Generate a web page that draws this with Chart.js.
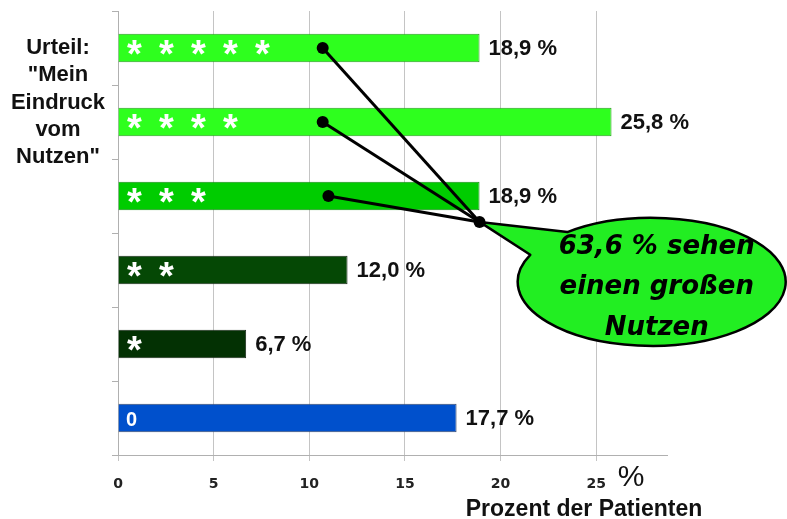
<!DOCTYPE html>
<html>
<head>
<meta charset="utf-8">
<script src="https://cdn.jsdelivr.net/npm/chart.js@4.4.0/dist/chart.umd.min.js"></script>
<style>
  html, body { margin: 0; padding: 0; background: #fff; }
  #wrap { width: 787px; height: 519px; }
</style>
</head>
<body>
<div id="wrap"><canvas id="chart" width="787" height="519"></canvas></div>
<script>
// Daten aus der Vorlage
const categories = ['* * * * *', '* * * *', '* * *', '* *', '*', '0'];
const percentages = [18.9, 25.8, 18.9, 12.0, 6.7, 17.7];
const valueLabels = ['18,9 %', '25,8 %', '18,9 %', '12,0 %', '6,7 %', '17,7 %'];
const barColors = ['#2eff1e', '#2eff1e', '#00cc00', '#054805', '#033103', '#0050cc'];
const barBorders = ['#2a9a20', '#2a9a20', '#108a10', '#1a2a1a', '#1a2a1a', '#3a4a6a'];
const xTicks = [0, 5, 10, 15, 20, 25];
const axisTitleLines = ['Urteil:', '"Mein', 'Eindruck', 'vom', 'Nutzen"'];
const calloutLines = ['63,6 % sehen', 'einen großen', 'Nutzen'];
const pointerFrom = [10.7, 10.7, 11.0];   // x-Werte der Punkte auf den Balken 0..2
const pointerHub = { x: 18.9, y: 2.35 };
const bubbleCenter = { x: 27.9, y: 3.16 };

const FONT = '"Liberation Sans", Arial, sans-serif';

const overlay = {
    id: 'overlay',
    afterDatasetsDraw(chart) {
        const ctx = chart.ctx;
        const meta = chart.getDatasetMeta(0);
        ctx.save();
        meta.data.forEach((bar, i) => {
            ctx.font = 'bold 22px ' + FONT;
            ctx.fillStyle = '#111';
            ctx.textAlign = 'left';
            ctx.textBaseline = 'middle';
            ctx.fillText(valueLabels[i], bar.x + 9, bar.y + 1);

            // Sterne / Null im Balken
            ctx.fillStyle = '#fff';
            ctx.textAlign = 'center';
            const marks = categories[i].split(' ');
            marks.forEach((m, k) => {
                if (m === '*') {
                    ctx.font = 'bold 38px ' + FONT;
                    ctx.textBaseline = 'alphabetic';
                    ctx.fillText(m, bar.base + 16 + k * 32, bar.y + 19);
                } else {
                    ctx.font = 'bold 20px ' + FONT;
                    ctx.textBaseline = 'middle';
                    ctx.fillText(m, bar.base + 13, bar.y + 2);
                }
            });
        });
        ctx.restore();
    },
    afterDraw(chart) {
        const ctx = chart.ctx;
        const xs = chart.scales.x, ys = chart.scales.y;
        ctx.save();

        // linke Beschriftung
        ctx.font = 'bold 22px ' + FONT;
        ctx.fillStyle = '#111';
        ctx.textAlign = 'center';
        ctx.textBaseline = 'middle';
        axisTitleLines.forEach((t, i) => ctx.fillText(t, 58, 48 + i * 27.3));

        // x-Achsentitel und Einheit
        ctx.font = 'bold 23px ' + FONT;
        ctx.fillText('Prozent der Patienten', 584, 510);
        ctx.font = '30px ' + FONT;
        ctx.fillText('%', 631, 478);

        // Sprechblase
        const hx = xs.getPixelForValue(pointerHub.x);
        const hy = ys.getPixelForValue(pointerHub.y);
        const cx = xs.getPixelForValue(bubbleCenter.x);
        const cy = ys.getPixelForValue(bubbleCenter.y);
        const rx = 134, ry = 64;
        const a1 = 231 * Math.PI / 180, a2 = 205 * Math.PI / 180;
        ctx.beginPath();
        ctx.moveTo(hx, hy);
        ctx.lineTo(cx + rx * Math.cos(a1), cy + ry * Math.sin(a1));
        ctx.ellipse(cx, cy, rx, ry, 0, a1, a2 + Math.PI * 2, false);
        ctx.closePath();
        ctx.fillStyle = '#22ee22';
        ctx.fill();
        ctx.lineWidth = 2.5;
        ctx.strokeStyle = '#000';
        ctx.lineJoin = 'round';
        ctx.stroke();

        ctx.fillStyle = '#000';
        ctx.font = 'italic bold 26px "DejaVu Sans", Verdana, sans-serif';
        calloutLines.forEach((t, i) => ctx.fillText(t, cx + 5, cy - 35 + i * 40.5));

        // Zeiger von den Balken
        ctx.lineWidth = 3;
        pointerFrom.forEach((v, i) => {
            const px = xs.getPixelForValue(v);
            const py = ys.getPixelForValue(i);
            ctx.beginPath();
            ctx.moveTo(px, py);
            ctx.lineTo(hx, hy);
            ctx.stroke();
            ctx.beginPath();
            ctx.arc(px, py, 6, 0, Math.PI * 2);
            ctx.fill();
        });
        ctx.beginPath();
        ctx.arc(hx, hy, 6, 0, Math.PI * 2);
        ctx.fill();
        ctx.restore();
    }
};

new Chart(document.getElementById('chart'), {
    type: 'bar',
    data: {
        labels: categories,
        datasets: [{
            data: percentages,
            backgroundColor: barColors,
            borderColor: barBorders,
            borderWidth: 1,
            barPercentage: 0.385,
            categoryPercentage: 1,
        }]
    },
    options: {
        indexAxis: 'y',
        responsive: false,
        animation: false,
        layout: { padding: { top: 11, right: 120, left: 0, bottom: 0 } },
        plugins: {
            legend: { display: false },
            tooltip: { enabled: false },
        },
        scales: {
            x: {
                min: 0,
                max: 28.7,
                afterBuildTicks: (scale) => { scale.ticks = xTicks.map(v => ({ value: v })); },
                afterFit: (scale) => { scale.height = 64; },
                grid: { color: '#c4c4c4', tickLength: 6 },
                border: { color: '#b0b0b0' },
                ticks: {
                    color: '#222',
                    padding: 15,
                    font: { family: '"DejaVu Sans", Verdana, sans-serif', size: 14, weight: 'bold' },
                },
            },
            y: {
                afterFit: (scale) => { scale.width = 118; },
                grid: { drawOnChartArea: false, color: '#b0b0b0', tickLength: 6 },
                border: { color: '#b0b0b0' },
                ticks: { display: false },
            }
        }
    },
    plugins: [overlay]
});
</script>
</body>
</html>
